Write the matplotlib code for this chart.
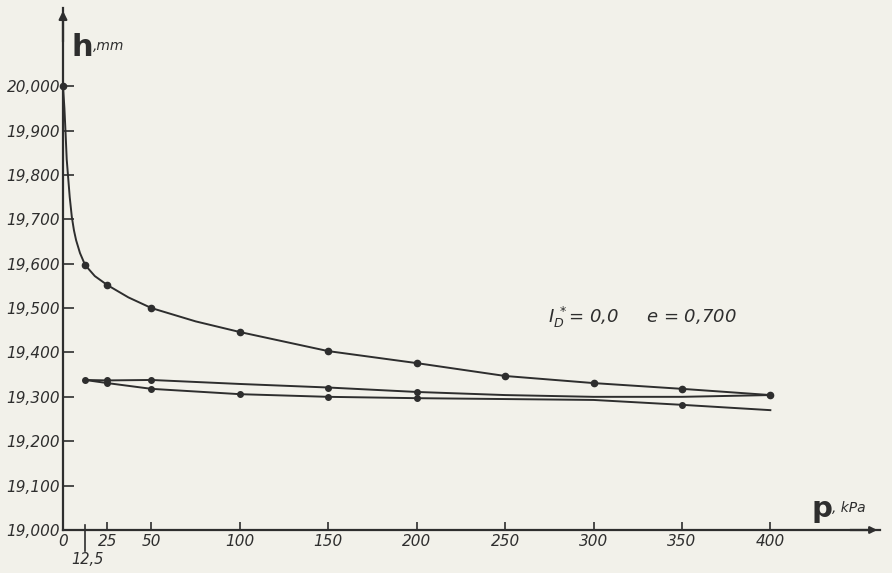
import matplotlib
matplotlib.use("Agg")
import matplotlib.pyplot as plt
from matplotlib import transforms

# loading branch (first points)
p_load = [0, 0.8, 1.5, 2.1, 2.8, 3.8, 5, 6.2, 7.4, 9.6, 12.5, 18, 25, 37, 50, 75,
          100, 150, 200, 250, 300, 350, 400]
h_load = [20.000, 19.950, 19.890, 19.835, 19.800, 19.750, 19.705, 19.675, 19.653,
          19.624, 19.597, 19.572, 19.552, 19.524, 19.500, 19.470,
          19.446, 19.403, 19.376, 19.347, 19.331, 19.318, 19.304]
p_load_pts = [0, 12.5, 25, 50, 100, 150, 200, 250, 300, 350, 400]
h_load_pts = [20.000, 19.597, 19.552, 19.500, 19.446, 19.403, 19.376, 19.347, 19.331, 19.318, 19.304]

# upper of the two lower branches
p_up = [12.5, 25, 50, 100, 150, 200, 250, 300, 350, 400]
h_up = [19.338, 19.337, 19.338, 19.329, 19.321, 19.311, 19.304, 19.300, 19.300, 19.304]
p_up_pts = [12.5, 25, 50, 150, 200]
h_up_pts = [19.338, 19.337, 19.338, 19.321, 19.311]

# lower branch
p_low = [12.5, 25, 50, 100, 150, 200, 250, 300, 350, 400]
h_low = [19.338, 19.331, 19.318, 19.306, 19.300, 19.297, 19.295, 19.293, 19.282, 19.270]
p_low_pts = [25, 50, 100, 150, 200, 350]
h_low_pts = [19.331, 19.318, 19.306, 19.300, 19.297, 19.282]

y_ticks = [19.0, 19.1, 19.2, 19.3, 19.4, 19.5, 19.6, 19.7, 19.8, 19.9, 20.0]
y_labels = ["19,000", "19,100", "19,200", "19,300", "19,400", "19,500",
            "19,600", "19,700", "19,800", "19,900", "20,000"]
x_ticks = [0, 25, 50, 100, 150, 200, 250, 300, 350, 400]

ink = "#2e2e2e"
paper = "#f2f1ea"

fig = plt.figure(figsize=(8.92, 5.73), dpi=100, facecolor=paper)
ax = fig.add_axes([63 / 892, 43 / 573, 817 / 892, 522 / 573])
ax.set_facecolor(paper)
ax.set_xlim(0, 462)
ax.set_ylim(19.0, 20.176)

lw = 1.4
ax.plot(p_load, h_load, color=ink, lw=lw, clip_on=False)
ax.plot(p_up, h_up, color=ink, lw=lw)
ax.plot(p_low, h_low, color=ink, lw=lw)
ax.plot(p_load_pts, h_load_pts, "o", color=ink, ms=4.5, clip_on=False)
ax.plot(p_up_pts, h_up_pts, "o", color=ink, ms=4)
ax.plot(p_low_pts, h_low_pts, "o", color=ink, ms=4)

for s in ["top", "right"]:
    ax.spines[s].set_visible(False)
for s in ["left", "bottom"]:
    ax.spines[s].set_color(ink)
    ax.spines[s].set_linewidth(1.6)

# arrow ends of the axes
ax.annotate("", xy=(0, 1.0), xytext=(0, 0.93), xycoords="axes fraction",
            arrowprops=dict(arrowstyle="-|>", color=ink, lw=1.6, mutation_scale=12))
ax.annotate("", xy=(1.0, 0), xytext=(0.96, 0), xycoords="axes fraction",
            arrowprops=dict(arrowstyle="-|>", color=ink, lw=1.6, mutation_scale=10))

ax.set_yticks(y_ticks)
ax.set_yticklabels(y_labels, fontstyle="italic", fontsize=11, color=ink)
ax.set_xticks(x_ticks)
ax.set_xticklabels([str(t) for t in x_ticks], fontstyle="italic", fontsize=11, color=ink)
ax.tick_params(axis="y", direction="in", length=8, width=1.2, color=ink, pad=2)
ax.tick_params(axis="x", direction="in", length=6, width=1.2, color=ink, pad=3)

# special mark for 12,5 kPa
trans = transforms.blended_transform_factory(ax.transData, ax.transAxes)
ax.plot([12.5, 12.5], [0.01, -0.04], color=ink, lw=1.2, transform=trans, clip_on=False)
ax.text(14, -0.057, "12,5", transform=trans, fontsize=10.5, fontstyle="italic",
        color=ink, ha="center", va="center")

# axis titles
ax.text(5, 20.086, "h", fontsize=22, fontweight="bold", color=ink, va="center", ha="left")
ax.text(17, 20.090, ",mm", fontsize=10, fontstyle="italic", color=ink, va="center", ha="left")
ax.text(423, 19.047, "p", fontsize=21, fontweight="bold", color=ink, va="center", ha="left")
ax.text(435, 19.049, ", kPa", fontsize=10, fontstyle="italic", color=ink, va="center", ha="left")

ax.text(274, 19.478, r"$I_D^{\,*}$= 0,0     e = 0,700", fontsize=13, fontstyle="italic",
        color=ink, va="center", ha="left")

fig.savefig("out.png", dpi=100, facecolor=paper)
